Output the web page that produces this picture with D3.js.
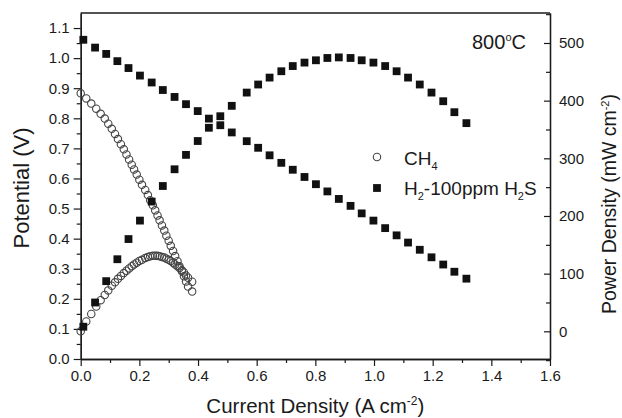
<!DOCTYPE html>
<html>
<head>
<meta charset="utf-8">
<script src="https://cdn.jsdelivr.net/npm/d3@7/dist/d3.min.js"></script>
<style>
  html, body { margin: 0; padding: 0; background: #fff; }
  svg { display: block; font-family: Arial, "Liberation Sans", sans-serif; }
</style>
</head>
<body>
<svg id="chart" width="622" height="418"></svg>
<script>
// H2 with 100 ppm H2S: current density (A cm-2), cell potential (V), power density (mW cm-2)
const currentH2 = [0.009, 0.049, 0.087, 0.125, 0.163, 0.202, 0.242, 0.280, 0.320, 0.359, 0.399, 0.437,
  0.476, 0.515, 0.566, 0.605, 0.644, 0.684, 0.723, 0.763, 0.802, 0.841, 0.880, 0.920, 0.958, 0.998,
  1.038, 1.077, 1.116, 1.156, 1.196, 1.236, 1.274, 1.315];
const potentialH2 = [1.061, 1.035, 1.014, 0.990, 0.967, 0.942, 0.919, 0.894, 0.871, 0.847, 0.824, 0.799,
  0.777, 0.753, 0.724, 0.702, 0.677, 0.652, 0.629, 0.605, 0.581, 0.557, 0.532, 0.509, 0.484, 0.460,
  0.435, 0.411, 0.387, 0.363, 0.338, 0.314, 0.290, 0.267];
const powerH2 = [8, 50, 87, 125, 160, 192, 225, 252, 281, 306, 330, 353,
  373, 391, 414, 428, 440, 451, 460, 466, 470, 474, 475, 474, 470, 466,
  460, 451, 440, 428, 414, 399, 380, 361];

// CH4 fuel
const currentCH4 = [0.000, 0.019, 0.036, 0.053, 0.068, 0.082, 0.094, 0.106, 0.117, 0.127, 0.137, 0.147,
  0.156, 0.165, 0.174, 0.182, 0.191, 0.200, 0.209, 0.220, 0.229, 0.237, 0.246, 0.254, 0.262, 0.269,
  0.277, 0.285, 0.292, 0.300, 0.307, 0.315, 0.322, 0.330, 0.337, 0.345, 0.352, 0.359, 0.366, 0.380];
const potentialCH4 = [0.883, 0.866, 0.849, 0.832, 0.815, 0.799, 0.782, 0.765, 0.748, 0.731, 0.714, 0.697,
  0.680, 0.663, 0.646, 0.630, 0.613, 0.596, 0.579, 0.562, 0.545, 0.528, 0.511, 0.494, 0.477, 0.461,
  0.444, 0.427, 0.410, 0.393, 0.376, 0.359, 0.342, 0.325, 0.308, 0.292, 0.275, 0.258, 0.241, 0.224];
const powerCH4 = [0, 17, 30, 43, 54, 63, 71, 79, 85, 91, 96, 101,
  105, 109, 113, 116, 119, 122, 124, 127, 129, 130, 131, 131, 131, 130,
  129, 128, 126, 124, 122, 119, 116, 113, 110, 106, 102, 97, 93, 86];

// Axis ticks
const xTicks = [0, 0.2, 0.4, 0.6, 0.8, 1.0, 1.2, 1.4, 1.6];
const xMinor = [0.1, 0.3, 0.5, 0.7, 0.9, 1.1, 1.3, 1.5];
const yLeftTicks = [0, 0.1, 0.2, 0.3, 0.4, 0.5, 0.6, 0.7, 0.8, 0.9, 1.0, 1.1];
const yLeftMinor = [0.05, 0.15, 0.25, 0.35, 0.45, 0.55, 0.65, 0.75, 0.85, 0.95, 1.05];
const yRightTicks = [0, 100, 200, 300, 400, 500];
const yRightMinor = [-50, 50, 150, 250, 350, 450, 550];

const svg = d3.select("#chart");
const L = 80.7, R = 550, T = 13, B = 359;

const x = d3.scaleLinear().domain([0, 1.6]).range([L, R]);
const yL = d3.scaleLinear().domain([0, 1.15]).range([B, T]);
const yR = d3.scaleLinear().domain([-48, 552]).range([B, T]);

const ink = "#1a1a1a";
const fmt1 = d3.format(".1f");
const tfont = "Arial, 'Liberation Sans', sans-serif";

function styleAxis(g) {
  g.selectAll("path.domain").attr("stroke", ink).attr("stroke-width", 1.3);
  g.selectAll(".tick line").attr("stroke", ink).attr("stroke-width", 1.2);
  g.selectAll(".tick text").attr("fill", ink).style("font-size", "15px").style("font-family", tfont);
}

// Bottom axis
svg.append("g").attr("transform", `translate(0,${B})`)
  .call(d3.axisBottom(x).tickValues(xMinor).tickSize(4).tickSizeOuter(0).tickFormat(""))
  .call(styleAxis);
svg.append("g").attr("transform", `translate(0,${B})`)
  .call(d3.axisBottom(x).tickValues(xTicks).tickSize(7).tickSizeOuter(0).tickPadding(4).tickFormat(fmt1))
  .call(styleAxis);

// Left axis
svg.append("g").attr("transform", `translate(${L},0)`)
  .call(d3.axisLeft(yL).tickValues(yLeftMinor).tickSize(4).tickSizeOuter(0).tickFormat(""))
  .call(styleAxis);
svg.append("g").attr("transform", `translate(${L},0)`)
  .call(d3.axisLeft(yL).tickValues(yLeftTicks).tickSize(7).tickSizeOuter(0).tickPadding(4).tickFormat(fmt1))
  .call(styleAxis);

// Right axis, ticks pointing into the plot
svg.append("g").attr("transform", `translate(${R},0)`)
  .call(d3.axisRight(yR).tickValues(yRightMinor).tickSize(-4).tickSizeOuter(0).tickFormat(""))
  .call(styleAxis);
svg.append("g").attr("transform", `translate(${R},0)`)
  .call(d3.axisRight(yR).tickValues(yRightTicks).tickSize(-6).tickSizeOuter(0).tickPadding(9).tickFormat(d3.format("d")))
  .call(styleAxis);

// Top frame line
svg.append("line").attr("x1", L).attr("x2", R).attr("y1", T).attr("y2", T)
  .attr("stroke", ink).attr("stroke-width", 1.3);

// Markers
const sq = 7.8;
const circR = 3.7;
const h2Pot = currentH2.map((c, i) => ({ c, v: potentialH2[i] }));
const h2Pow = currentH2.map((c, i) => ({ c, v: powerH2[i] }));
const chPot = currentCH4.map((c, i) => ({ c, v: potentialCH4[i] }));
const chPow = currentCH4.map((c, i) => ({ c, v: powerCH4[i] }));

const marks = svg.append("g");
function squares(data, yScale) {
  marks.append("g").selectAll("rect").data(data).join("rect")
    .attr("x", d => x(d.c) - sq / 2).attr("y", d => yScale(d.v) - sq / 2)
    .attr("width", sq).attr("height", sq).attr("fill", "#111");
}
function circles(data, yScale) {
  marks.append("g").selectAll("circle").data(data).join("circle")
    .attr("cx", d => x(d.c)).attr("cy", d => yScale(d.v)).attr("r", circR)
    .attr("fill", "none").attr("stroke", "#444").attr("stroke-width", 1.1);
}
circles(chPot, yL);
circles(chPow, yR);
squares(h2Pot, yL);
squares(h2Pow, yR);

// Axis titles
const xt = svg.append("text").attr("x", (L + R) / 2).attr("y", 413).attr("text-anchor", "middle")
  .attr("fill", ink).style("font-size", "20.5px").style("font-family", tfont);
xt.append("tspan").text("Current Density (A cm");
xt.append("tspan").attr("dy", -8).style("font-size", "12px").text("-2");
xt.append("tspan").attr("dy", 8).text(")");

svg.append("text").attr("transform", `translate(29,${(T + B) / 2 + 2}) rotate(-90)`)
  .attr("text-anchor", "middle").attr("fill", ink).style("font-size", "22px").style("font-family", tfont)
  .text("Potential (V)");

const yt = svg.append("text").attr("transform", `translate(616,${(T + B) / 2 + 18}) rotate(-90)`)
  .attr("text-anchor", "middle").attr("fill", ink).style("font-size", "19.5px").style("font-family", tfont);
yt.append("tspan").text("Power Density (mW cm");
yt.append("tspan").attr("dy", -7).style("font-size", "11px").text("-2");
yt.append("tspan").attr("dy", 7).text(")");

// Temperature label
const temp = svg.append("text").attr("x", 472).attr("y", 49).attr("fill", ink)
  .style("font-size", "20px").style("font-family", tfont);
temp.append("tspan").text("800");
temp.append("tspan").attr("dy", -8).style("font-size", "11px").text("o");
temp.append("tspan").attr("dy", 8).text("C");

// Legend
const lg = svg.append("g");
lg.append("circle").attr("cx", 377).attr("cy", 157).attr("r", circR)
  .attr("fill", "none").attr("stroke", "#444").attr("stroke-width", 1.1);
const l1 = lg.append("text").attr("x", 404).attr("y", 165).attr("fill", ink)
  .style("font-size", "19px").style("font-family", tfont);
l1.append("tspan").text("CH");
l1.append("tspan").attr("dy", 5).style("font-size", "11px").text("4");

lg.append("rect").attr("x", 377 - sq / 2).attr("y", 188 - sq / 2).attr("width", sq).attr("height", sq).attr("fill", "#111");
const l2 = lg.append("text").attr("x", 404).attr("y", 195).attr("fill", ink)
  .style("font-size", "19px").style("font-family", tfont);
l2.append("tspan").text("H");
l2.append("tspan").attr("dy", 5).style("font-size", "11px").text("2");
l2.append("tspan").attr("dy", -5).text("-100ppm H");
l2.append("tspan").attr("dy", 5).style("font-size", "11px").text("2");
l2.append("tspan").attr("dy", -5).text("S");
</script>
</body>
</html>
